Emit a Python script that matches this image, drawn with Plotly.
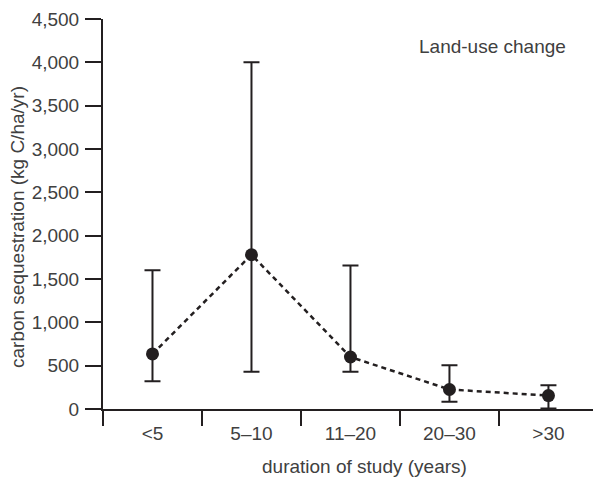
import plotly.graph_objects as go

categories = ["<5", "5–10", "11–20", "20–30", ">30"]
mean_values = [635, 1780, 600, 225, 155]
upper_values = [1600, 4000, 1655, 505, 275]
lower_values = [320, 430, 430, 85, 5]

err_plus = [u - m for u, m in zip(upper_values, mean_values)]
err_minus = [m - l for m, l in zip(mean_values, lower_values)]

ink = "#231f20"
txt = "#404040"
font_family = "Liberation Sans, Arial, sans-serif"
fs = 19

fig = go.Figure()
fig.add_trace(go.Scatter(
    x=categories, y=mean_values,
    mode="lines+markers",
    line=dict(color=ink, width=2.5, dash="5px,4px"),
    marker=dict(color=ink, size=13),
    error_y=dict(type="data", array=err_plus, arrayminus=err_minus,
                 color=ink, thickness=2, width=8, symmetric=False),
    cliponaxis=False,
    showlegend=False,
))

fig.update_layout(
    width=595, height=477,
    margin=dict(l=103, r=2, t=19, b=68),
    plot_bgcolor="white", paper_bgcolor="white",
    font=dict(family=font_family, size=fs, color=txt),
    xaxis=dict(
        type="category", range=[-0.5, 4.45],
        tickson="boundaries", ticks="outside", ticklen=15, tickwidth=2, tickcolor=ink,
        showline=True, linecolor=ink, linewidth=2, showgrid=False, zeroline=False,
        tickfont=dict(size=fs, color=txt), ticklabelstandoff=6,
    ),
    yaxis=dict(
        range=[0, 4500], tickvals=list(range(0, 4501, 500)),
        tickformat=",d",
        ticks="outside", ticklen=16, tickwidth=2, tickcolor=ink,
        showline=True, linecolor=ink, linewidth=2, showgrid=False, zeroline=False,
        tickfont=dict(size=fs, color=txt), ticklabelstandoff=2,
    ),
)

# text labels placed as paper annotations (pixel positions converted to paper fractions)
W, H = 595, 477
pl, pr, pt, pb = 103, 2, 19, 68
pw, ph = W - pl - pr, H - pt - pb

def px_to_paper(xp, yp):
    return (xp - pl) / pw, 1 - (yp - pt) / ph

lx, ly = px_to_paper(568, 47)
fig.add_annotation(text="Land-use change", x=lx, y=ly, xref="paper", yref="paper",
                   showarrow=False, xanchor="right", yanchor="middle",
                   font=dict(family=font_family, size=fs, color=txt))
tx, ty = px_to_paper(364, 467)
fig.add_annotation(text="duration of study (years)", x=tx, y=ty, xref="paper", yref="paper",
                   showarrow=False, xanchor="center", yanchor="middle",
                   font=dict(family=font_family, size=fs, color=txt))
yx, yy = px_to_paper(17, 227)
fig.add_annotation(text="carbon sequestration (kg C/ha/yr)", x=yx, y=yy, xref="paper", yref="paper",
                   showarrow=False, xanchor="center", yanchor="middle", textangle=-90,
                   font=dict(family=font_family, size=fs, color=txt))

fig.write_html("out.html")
